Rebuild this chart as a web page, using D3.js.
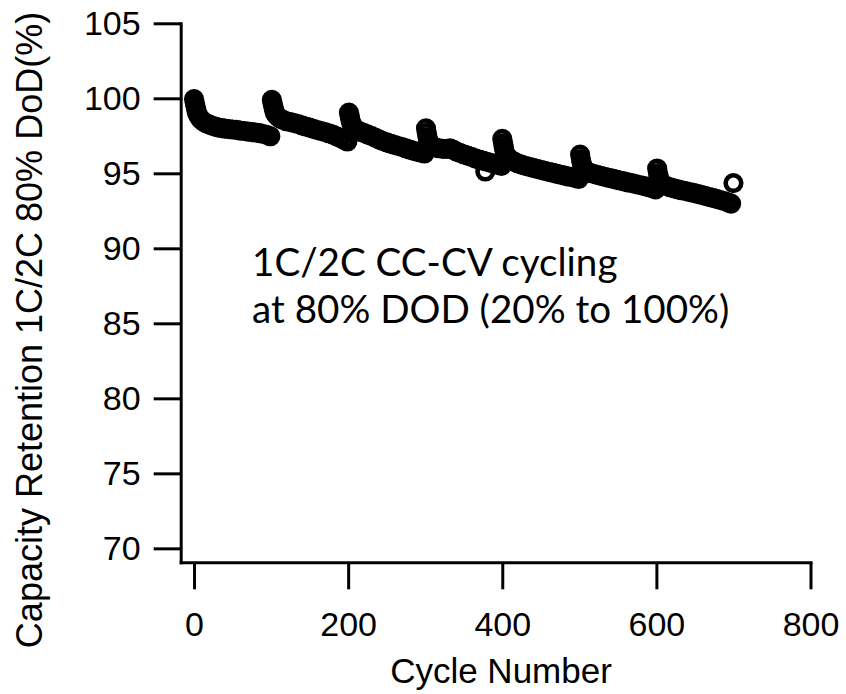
<!DOCTYPE html>
<html>
<head>
<meta charset="utf-8">
<script src="https://cdn.jsdelivr.net/npm/d3@7"></script>
<style>
  body { margin: 0; background: #fff; }
</style>
</head>
<body>
<div id="retention"></div>
<script>
// cycle number of each measured point (one row per 100-cycle block)
var cycleNumber = [
    0, 1, 2, 3, 4, 6, 8, 10, 13, 16, 20, 24, 28, 32, 36, 40, 45, 50, 55, 60, 65, 70, 75, 80, 85, 90, 95, 99,
    101, 102, 103, 104, 105, 107, 110, 113, 116, 120, 125, 130, 135, 140, 145, 150, 155, 160, 165, 170, 175, 180, 185, 190, 195, 199,
    201, 202, 203, 204, 206, 208, 211, 215, 220, 225, 230, 235, 240, 245, 250, 255, 260, 265, 270, 275, 280, 285, 290, 295, 299,
    301, 302, 303, 304, 306, 309, 313, 318, 323, 328, 332, 336, 340, 345, 350, 355, 360, 365, 370, 375, 378, 380, 385, 390, 395, 399,
    400, 401, 402, 403, 405, 408, 412, 416, 420, 425, 430, 435, 440, 445, 450, 455, 460, 465, 470, 475, 480, 485, 490, 495, 499,
    501, 502, 503, 504, 506, 509, 513, 518, 523, 528, 533, 538, 543, 548, 553, 558, 563, 568, 573, 578, 583, 588, 593, 597, 599,
    601, 602, 603, 604, 606, 609, 613, 618, 623, 628, 633, 638, 643, 648, 653, 658, 663, 668, 673, 678, 683, 688, 693, 697, 700
];
// capacity retention (%) for the same points
var retention = [
    99.95, 99.7, 99.45, 99.2, 99.0, 98.8, 98.65, 98.55, 98.42, 98.33, 98.24, 98.17, 98.1, 98.05, 98.01, 97.98, 97.95, 97.92, 97.89, 97.85, 97.82, 97.78, 97.75, 97.72, 97.68, 97.62, 97.55, 97.47,
    99.9, 99.65, 99.4, 99.2, 99.02, 98.87, 98.72, 98.62, 98.54, 98.47, 98.41, 98.35, 98.28, 98.2, 98.12, 98.04, 97.96, 97.88, 97.81, 97.74, 97.67, 97.58, 97.47, 97.35, 97.22, 97.12,
    99.05, 98.8, 98.56, 98.36, 98.16, 98.02, 97.9, 97.8, 97.7, 97.6, 97.5, 97.38, 97.26, 97.15, 97.06, 96.98, 96.9, 96.82, 96.74, 96.66, 96.58, 96.5, 96.43, 96.37, 96.32,
    98.0, 97.7, 97.42, 97.17, 96.96, 96.82, 96.73, 96.67, 96.63, 96.62, 96.66, 96.58, 96.46, 96.36, 96.27, 96.18, 96.09, 96.0, 95.92, 95.84, 95.12, 95.77, 95.7, 95.62, 95.55, 95.49,
    97.3, 97.0, 96.72, 96.47, 96.22, 96.02, 95.87, 95.76, 95.67, 95.58, 95.5, 95.43, 95.36, 95.3, 95.23, 95.16, 95.1, 95.04, 94.98, 94.92, 94.86, 94.8, 94.74, 94.68, 94.62,
    96.25, 95.95, 95.7, 95.5, 95.3, 95.15, 95.05, 94.97, 94.9, 94.83, 94.76, 94.7, 94.64, 94.58, 94.52, 94.46, 94.4, 94.34, 94.28, 94.22, 94.16, 94.1, 94.03, 93.97, 93.93,
    95.32, 95.02, 94.77, 94.57, 94.38, 94.25, 94.15, 94.07, 94.0, 93.93, 93.87, 93.81, 93.75, 93.69, 93.63, 93.57, 93.5, 93.43, 93.36, 93.29, 93.22, 93.14, 93.06, 92.98, 94.35
];
var xTicks = [0, 200, 400, 600, 800];
var yTicks = [70, 75, 80, 85, 90, 95, 100, 105];
var noteLines = ["1C/2C CC-CV cycling", "at 80% DOD (20% to 100%)"];

var width = 846,
    height = 694;

var svg = d3.select("#retention")
    .append("svg")
    .attr("width", width)
    .attr("height", height);

// scales - the axes start a little before 0 / 70 so they meet in a corner
var x = d3.scaleLinear()
    .domain([-17.3, 800])
    .range([180.7, 810.5]);
var y = d3.scaleLinear()
    .domain([69.07, 105])
    .range([562.3, 23.3]);

var axisFont = "'Liberation Sans', Arial, Helvetica, sans-serif";

// X axis
var gx = svg.append("g")
    .attr("transform", "translate(0," + y(69.07) + ")")
    .call(d3.axisBottom(x).tickValues(xTicks).tickSizeInner(27).tickSizeOuter(0).tickPadding(23));
// Y axis
var gy = svg.append("g")
    .attr("transform", "translate(" + x(-17.3) + ",0)")
    .call(d3.axisLeft(y).tickValues(yTicks).tickSizeInner(27).tickSizeOuter(0).tickPadding(13));

[gx, gy].forEach(function (g) {
    g.select(".domain").attr("stroke", "#000").attr("stroke-width", 3).attr("stroke-linecap", "square");
    g.selectAll(".tick line").attr("stroke", "#000").attr("stroke-width", 3);
    g.selectAll(".tick text")
        .attr("fill", "#000")
        .style("font-family", axisFont)
        .style("font-size", "34px");
});

// axis titles
svg.append("text")
    .attr("x", 501)
    .attr("y", 683)
    .attr("text-anchor", "middle")
    .style("font-family", axisFont)
    .style("font-size", "35px")
    .text("Cycle Number");

svg.append("text")
    .attr("transform", "translate(42,330)rotate(-90)")
    .attr("text-anchor", "middle")
    .style("font-family", axisFont)
    .style("font-size", "36px")
    .text("Capacity Retention 1C/2C 80% DoD(%)");

// the markers: open circles, so dense they run together into a thick band
svg.append("g")
    .selectAll("circle")
    .data(cycleNumber)
    .enter()
    .append("circle")
    .attr("cx", function (d) { return x(d); })
    .attr("cy", function (d, i) { return y(retention[i]); })
    .attr("r", 7.8)
    .attr("fill", "none")
    .attr("stroke", "#000")
    .attr("stroke-width", 4.6);

// annotation
svg.append("g")
    .selectAll("text")
    .data(noteLines)
    .enter()
    .append("text")
    .attr("x", 252)
    .attr("y", function (d, i) { return 276 + i * 47; })
    .style("font-family", "Lato, 'Open Sans', sans-serif")
    .style("font-size", "38.6px")
    .text(function (d) { return d; });
</script>
</body>
</html>
